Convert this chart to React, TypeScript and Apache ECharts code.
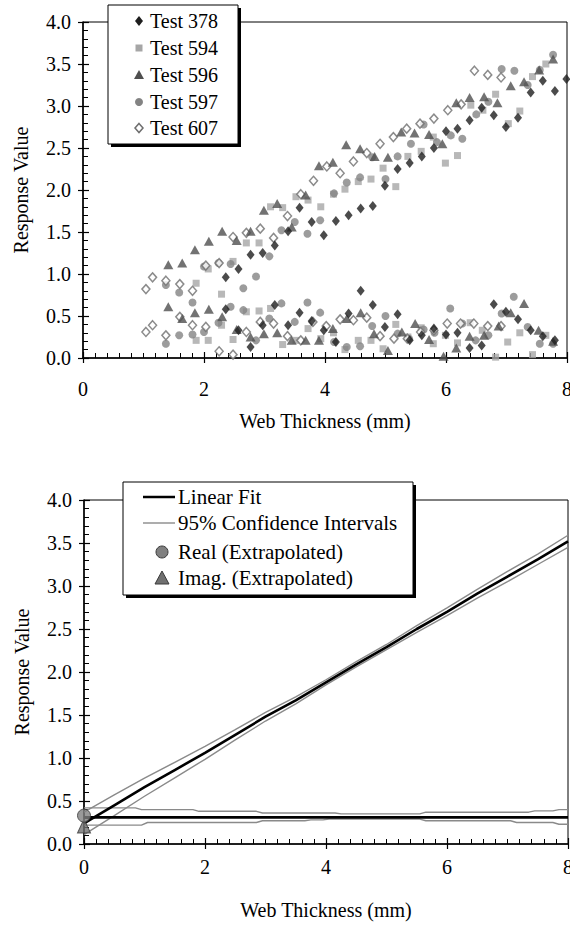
import React, { useEffect, useRef } from "react";
import * as echarts from "echarts";

const FONT = "Liberation Serif, serif";

// ---------- Top chart data: [web thickness (mm), response value] ----------
const t378Upper = [[2.36,0.96],[2.57,1.06],[2.77,1.23],[2.97,1.25],[3.17,1.34],[3.39,1.51],[3.58,1.79],[3.78,1.62],[3.98,1.46],[4.18,1.63],[4.39,1.70],[4.59,1.78],[4.79,1.81],[4.99,2.05],[5.20,2.25],[5.40,2.32],[5.60,2.40],[5.80,2.50],[6.00,2.70],[6.19,2.73],[6.39,2.83],[6.59,2.98],[6.79,2.89],[6.99,2.75],[7.19,2.86],[7.40,3.16],[7.60,3.30],[7.80,3.18],[7.99,3.32]];
const t378Lower = [[2.36,0.58],[2.57,0.33],[2.77,0.13],[2.97,0.39],[3.17,0.63],[3.39,0.39],[3.58,0.54],[3.78,0.44],[3.98,0.33],[4.18,0.19],[4.39,0.53],[4.59,0.80],[4.79,0.63],[4.99,0.37],[5.20,0.52],[5.40,0.21],[5.60,0.27],[5.80,0.35],[6.00,0.28],[6.19,0.30],[6.39,0.12],[6.59,0.15],[6.79,0.64],[6.99,0.55],[7.19,0.46],[7.40,0.33],[7.60,0.26],[7.80,0.21]];

const t594Upper = [[1.87,0.89],[2.07,1.06],[2.29,0.76],[2.48,1.15],[2.70,1.37],[2.91,1.37],[3.10,1.80],[3.30,1.79],[3.52,1.92],[3.72,1.88],[3.93,1.80],[4.14,1.95],[4.33,2.01],[4.55,2.10],[4.76,2.13],[4.96,2.26],[5.17,2.04],[5.37,2.40],[5.59,2.46],[5.79,2.63],[5.99,2.32],[6.19,2.41],[6.41,3.01],[6.61,2.95],[6.82,3.14],[7.03,2.79],[7.22,2.94],[7.43,3.35],[7.65,3.50]];
const t594Lower = [[1.87,0.21],[2.07,0.21],[2.29,0.39],[2.48,0.22],[2.70,0.55],[2.91,0.56],[3.10,0.59],[3.30,0.16],[3.52,0.21],[3.72,0.35],[3.93,0.23],[4.14,0.30],[4.33,0.10],[4.55,0.21],[4.76,0.21],[4.96,0.11],[5.17,0.40],[5.37,0.25],[5.59,0.36],[5.79,0.17],[5.99,0.27],[6.19,0.18],[6.40,0.42],[6.60,0.33],[6.82,0.01],[7.02,0.19],[7.22,0.30],[7.43,0.04],[7.65,0.27]];

const t596Upper = [[1.41,1.11],[1.64,1.13],[1.85,1.29],[2.08,1.39],[2.30,1.51],[2.54,1.40],[2.77,1.51],[2.99,1.76],[3.21,1.84],[3.45,1.56],[3.68,1.94],[3.90,2.29],[4.13,2.33],[4.35,2.54],[4.58,2.49],[4.82,2.40],[5.04,2.39],[5.26,2.69],[5.48,2.68],[5.72,2.66],[5.94,2.55],[6.17,3.04],[6.39,3.10],[6.63,3.11],[6.85,3.04],[7.07,3.24],[7.29,3.29],[7.54,3.43],[7.77,3.56]];
const t596Lower = [[1.41,0.61],[1.64,0.47],[1.85,0.54],[2.08,0.58],[2.30,0.49],[2.54,0.34],[2.77,0.25],[2.99,0.29],[3.21,0.30],[3.45,0.21],[3.68,0.21],[3.90,0.21],[4.13,0.35],[4.36,0.47],[4.59,0.54],[4.81,0.29],[5.04,0.09],[5.27,0.31],[5.49,0.41],[5.72,0.22],[5.96,0.02],[6.17,0.12],[6.39,0.26],[6.63,0.27],[6.87,0.38],[7.07,0.54],[7.29,0.65],[7.53,0.33],[7.77,0.20]];

const t597Upper = [[1.37,0.87],[1.59,0.78],[1.81,0.66],[2.00,1.09],[2.24,1.13],[2.44,1.12],[2.65,0.83],[2.86,0.97],[3.08,1.21],[3.28,1.52],[3.50,1.62],[3.71,1.48],[3.92,1.64],[4.15,1.96],[4.36,2.09],[4.58,2.15],[4.78,2.39],[5.00,2.13],[5.20,2.40],[5.42,2.55],[5.63,2.78],[5.85,2.57],[6.08,2.65],[6.27,2.61],[6.50,2.90],[6.70,3.05],[6.92,3.44],[7.13,3.42],[7.35,3.25],[7.55,3.43],[7.77,3.61]];
const t597Lower = [[1.37,0.17],[1.59,0.27],[1.81,0.28],[2.00,0.31],[2.24,0.42],[2.44,0.61],[2.65,0.57],[2.86,0.21],[3.08,0.47],[3.28,0.65],[3.50,0.43],[3.71,0.66],[3.92,0.54],[4.15,0.19],[4.36,0.13],[4.58,0.14],[4.78,0.38],[5.00,0.50],[5.20,0.29],[5.39,0.23],[5.63,0.34],[5.81,0.30],[6.07,0.59],[6.27,0.41],[6.49,0.21],[6.70,0.27],[6.92,0.53],[7.12,0.73],[7.35,0.37],[7.55,0.17],[7.77,0.17]];

const t607Upper = [[1.04,0.82],[1.15,0.96],[1.37,0.92],[1.60,0.88],[1.81,0.80],[2.03,1.10],[2.25,1.13],[2.48,1.44],[2.70,1.49],[2.93,1.54],[3.15,1.43],[3.38,1.69],[3.60,1.95],[3.81,2.11],[4.03,2.28],[4.25,2.20],[4.47,2.34],[4.69,2.44],[4.91,2.55],[5.13,2.63],[5.35,2.73],[5.57,2.79],[5.80,2.85],[6.03,2.95],[6.25,3.02],[6.47,3.42],[6.69,3.37],[6.91,3.34]];
const t607Lower = [[1.04,0.31],[1.15,0.39],[1.37,0.27],[1.60,0.49],[1.81,0.39],[2.03,0.37],[2.25,0.08],[2.48,0.04],[2.70,0.31],[2.93,0.43],[3.15,0.41],[3.38,0.26],[3.60,0.21],[3.80,0.43],[4.02,0.38],[4.25,0.46],[4.47,0.45],[4.69,0.48],[4.91,0.26],[5.14,0.23],[5.36,0.23],[5.58,0.31],[5.80,0.33],[6.02,0.41],[6.24,0.41],[6.46,0.41],[6.69,0.38],[6.91,0.38]];

// ---------- Bottom chart data ----------
const fitX = [0,0.5,1,1.5,2,2.5,3,3.5,4,4.5,5,5.5,6,6.5,7,7.5,8];
const realFitY = [0.24,0.45,0.66,0.86,1.06,1.27,1.48,1.67,1.88,2.09,2.29,2.50,2.70,2.91,3.11,3.31,3.52];
const realUpperY = [0.37,0.57,0.765,0.95,1.135,1.33,1.53,1.71,1.91,2.12,2.32,2.54,2.745,2.96,3.17,3.37,3.59];
const realLowerY = [0.11,0.33,0.555,0.77,0.985,1.21,1.43,1.63,1.85,2.06,2.26,2.46,2.655,2.86,3.05,3.25,3.45];
const imagFitX = [0, 8];
const imagFitY = [0.31, 0.31];
const imagUpper = [[0,0.42],[0.85,0.42],[0.95,0.40],[1.8,0.40],[1.9,0.38],[2.85,0.38],[2.95,0.36],[4.15,0.36],[4.25,0.35],[5.55,0.35],[5.65,0.37],[7.35,0.37],[7.45,0.385],[7.75,0.385],[7.85,0.40],[8,0.40]];
const imagLower = [[0,0.22],[0.95,0.22],[1.05,0.25],[2.85,0.25],[2.95,0.27],[3.65,0.27],[3.75,0.28],[3.95,0.28],[4.05,0.29],[5.55,0.29],[5.65,0.27],[7.05,0.27],[7.15,0.25],[7.75,0.25],[7.85,0.23],[8,0.23]];
const realExtrap = [[0, 0.33]];
const imagExtrap = [[0, 0.21]];

const xName = "Web Thickness (mm)";
const yName = "Response Value";
const topLegend = ["Test 378", "Test 594", "Test 596", "Test 597", "Test 607"];
const bottomLegend = ["Linear Fit", "95% Confidence Intervals", "Real (Extrapolated)", "Imag. (Extrapolated)"];

const zip = (xs: number[], ys: number[]) => xs.map((x, i) => [x, ys[i]]);

function mainX(gridIndex: number, margin: number, nameGap: number) {
  return {
    type: "value", gridIndex, min: 0, max: 8, interval: 2, position: "bottom",
    axisLine: { show: true, onZero: false, lineStyle: { color: "#000", width: 1.5 } },
    axisTick: { show: true, inside: true, length: 6, lineStyle: { color: "#000", width: 1.2 } },
    minorTick: { show: true, splitNumber: 10, length: 5, lineStyle: { color: "#000", width: 1 } },
    splitLine: { show: false }, minorSplitLine: { show: false },
    axisLabel: { show: true, margin, fontSize: 20, fontFamily: FONT, color: "#000" },
    name: xName, nameLocation: "middle", nameGap,
    nameTextStyle: { fontSize: 20, fontFamily: FONT, color: "#000" },
  };
}
function overX(gridIndex: number) {
  return {
    type: "value", gridIndex, min: 0, max: 8, interval: 2, position: "bottom",
    axisLine: { show: false, onZero: false }, axisLabel: { show: false }, splitLine: { show: false },
    axisTick: { show: true, inside: false, length: 5, lineStyle: { color: "#000", width: 1.2 } },
  };
}
function mainY(gridIndex: number, nameGap: number) {
  return {
    type: "value", gridIndex, min: 0, max: 4, interval: 0.5, position: "left",
    axisLine: { show: true, onZero: false, lineStyle: { color: "#000", width: 1.5 } },
    axisTick: { show: true, inside: true, length: 6, lineStyle: { color: "#000", width: 1.2 } },
    minorTick: { show: true, splitNumber: 5, length: 5, lineStyle: { color: "#000", width: 1 } },
    splitLine: { show: false }, minorSplitLine: { show: false },
    axisLabel: { show: true, margin: 12, fontSize: 20, fontFamily: FONT, color: "#000", formatter: (v: number) => v.toFixed(1) },
    name: yName, nameLocation: "middle", nameGap, nameRotate: 90,
    nameTextStyle: { fontSize: 20, fontFamily: FONT, color: "#000" },
  };
}
function overY(gridIndex: number) {
  return {
    type: "value", gridIndex, min: 0, max: 4, interval: 0.5, position: "left",
    axisLine: { show: false, onZero: false }, axisLabel: { show: false }, splitLine: { show: false },
    axisTick: { show: true, inside: false, length: 5, lineStyle: { color: "#000", width: 1.2 } },
  };
}

const C378 = "#1e1e1e", C594 = "#a6a6a6", C596 = "#4f4f4f", C597 = "#838383", C607 = "#6e6e6e";

function legendElements() {
  const els: any[] = [];
  const txt = (x: number, y: number, s: string, size: number) => ({
    type: "text", z: 12,
    style: { text: s, x, y, font: `${size}px ${FONT}`, fill: "#000", textAlign: "left", textVerticalAlign: "middle", verticalAlign: "middle" },
  });
  // top legend box
  els.push({ type: "rect", z: 10, shape: { x: 111, y: 8, width: 130, height: 139 }, style: { fill: "#000" } });
  els.push({ type: "rect", z: 11, shape: { x: 108, y: 5, width: 130, height: 139 }, style: { fill: "#fff", stroke: "#000", lineWidth: 1 } });
  const rows = [21, 48, 75, 102, 128];
  const mx = 139;
  els.push({ type: "polygon", z: 12, shape: { points: [[mx, rows[0] - 5], [mx + 4, rows[0]], [mx, rows[0] + 5], [mx - 4, rows[0]]] }, style: { fill: C378 } });
  els.push({ type: "rect", z: 12, shape: { x: mx - 3.5, y: rows[1] - 3.5, width: 7, height: 7 }, style: { fill: C594 } });
  els.push({ type: "polygon", z: 12, shape: { points: [[mx, rows[2] - 5], [mx + 5, rows[2] + 4], [mx - 5, rows[2] + 4]] }, style: { fill: C596 } });
  els.push({ type: "circle", z: 12, shape: { cx: mx, cy: rows[3], r: 4 }, style: { fill: C597 } });
  els.push({ type: "polygon", z: 12, shape: { points: [[mx, rows[4] - 4.5], [mx + 4, rows[4]], [mx, rows[4] + 4.5], [mx - 4, rows[4]]] }, style: { fill: "#fff", stroke: C607, lineWidth: 1.5 } });
  topLegend.forEach((s, i) => els.push(txt(150, rows[i], s, 20)));

  // bottom legend box
  els.push({ type: "rect", z: 10, shape: { x: 126, y: 485, width: 290, height: 113 }, style: { fill: "#000" } });
  els.push({ type: "rect", z: 11, shape: { x: 123, y: 482, width: 290, height: 113 }, style: { fill: "#fff", stroke: "#000", lineWidth: 1 } });
  const brows = [497, 523, 552, 578];
  els.push({ type: "line", z: 12, shape: { x1: 143, y1: brows[0], x2: 175, y2: brows[0] }, style: { stroke: "#000", lineWidth: 2.5 } });
  els.push({ type: "line", z: 12, shape: { x1: 143, y1: brows[1], x2: 175, y2: brows[1] }, style: { stroke: "#8a8a8a", lineWidth: 1.4 } });
  els.push({ type: "circle", z: 12, shape: { cx: 162, cy: brows[2], r: 6 }, style: { fill: "#808080", stroke: "#3a3a3a", lineWidth: 1 } });
  els.push({ type: "polygon", z: 12, shape: { points: [[162, brows[3] - 7], [169, brows[3] + 6], [155, brows[3] + 6]] }, style: { fill: "#707070", stroke: "#3a3a3a", lineWidth: 1 } });
  bottomLegend.forEach((s, i) => els.push(txt(178, brows[i], s, 21)));
  return els;
}

export default function App() {
  const ref = useRef<HTMLDivElement>(null);
  useEffect(() => {
    if (!ref.current) return;
    const chart = echarts.init(ref.current, null, { renderer: "svg" });
    const top = { xAxisIndex: 0, yAxisIndex: 0, type: "scatter", silent: true };
    const bot = { xAxisIndex: 2, yAxisIndex: 2, silent: true };
    const ciStyle = { color: "#8a8a8a", width: 1.4 };
    chart.setOption({
      animation: false,
      backgroundColor: "#fff",
      textStyle: { fontFamily: FONT },
      grid: [
        { left: 83, top: 22, width: 484, height: 336, show: true, borderColor: "#000", borderWidth: 1, backgroundColor: "transparent", outerBoundsMode: "none" },
        { left: 84, top: 500, width: 484, height: 344, show: true, borderColor: "#000", borderWidth: 1, backgroundColor: "transparent", outerBoundsMode: "none" },
      ],
      xAxis: [mainX(0, 21, 53), overX(0), mainX(1, 13, 56), overX(1)],
      yAxis: [mainY(0, 52), overY(0), mainY(1, 52), overY(1)],
      graphic: { elements: legendElements() },
      series: [
        { ...top, name: "Test 594", symbol: "rect", symbolSize: 7, itemStyle: { color: C594 }, data: [...t594Upper, ...t594Lower] },
        { ...top, name: "Test 597", symbol: "circle", symbolSize: 8, itemStyle: { color: C597 }, data: [...t597Upper, ...t597Lower] },
        { ...top, name: "Test 607", symbol: "diamond", symbolSize: [8, 9], itemStyle: { color: "#fff", borderColor: C607, borderWidth: 1.5 }, data: [...t607Upper, ...t607Lower] },
        { ...top, name: "Test 596", symbol: "triangle", symbolSize: [10, 9], itemStyle: { color: C596 }, data: [...t596Upper, ...t596Lower] },
        { ...top, name: "Test 378", symbol: "diamond", symbolSize: [8, 10], itemStyle: { color: C378 }, data: [...t378Upper, ...t378Lower] },

        { ...bot, type: "line", name: "95% Confidence Intervals", showSymbol: false, lineStyle: ciStyle, data: zip(fitX, realUpperY) },
        { ...bot, type: "line", name: "95% Confidence Intervals", showSymbol: false, lineStyle: ciStyle, data: zip(fitX, realLowerY) },
        { ...bot, type: "line", name: "95% Confidence Intervals", showSymbol: false, lineStyle: ciStyle, data: imagUpper },
        { ...bot, type: "line", name: "95% Confidence Intervals", showSymbol: false, lineStyle: ciStyle, data: imagLower },
        { ...bot, type: "line", name: "Linear Fit", showSymbol: false, lineStyle: { color: "#000", width: 2.6 }, data: zip(fitX, realFitY) },
        { ...bot, type: "line", name: "Linear Fit", showSymbol: false, lineStyle: { color: "#000", width: 2.6 }, data: zip(imagFitX, imagFitY) },
        { ...bot, type: "scatter", name: "Imag. (Extrapolated)", symbol: "triangle", symbolSize: [13, 14], clip: false, itemStyle: { color: "#707070", borderColor: "#3a3a3a", borderWidth: 1 }, data: imagExtrap, z: 5 },
        { ...bot, type: "scatter", name: "Real (Extrapolated)", symbol: "circle", symbolSize: 13, clip: false, itemStyle: { color: "#808080", borderColor: "#3a3a3a", borderWidth: 1 }, data: realExtrap, z: 5 },
      ],
    });
    return () => chart.dispose();
  }, []);
  return <div ref={ref} style={{ position: "absolute", left: 0, top: 0, width: 570, height: 930, background: "#fff" }} />;
}
